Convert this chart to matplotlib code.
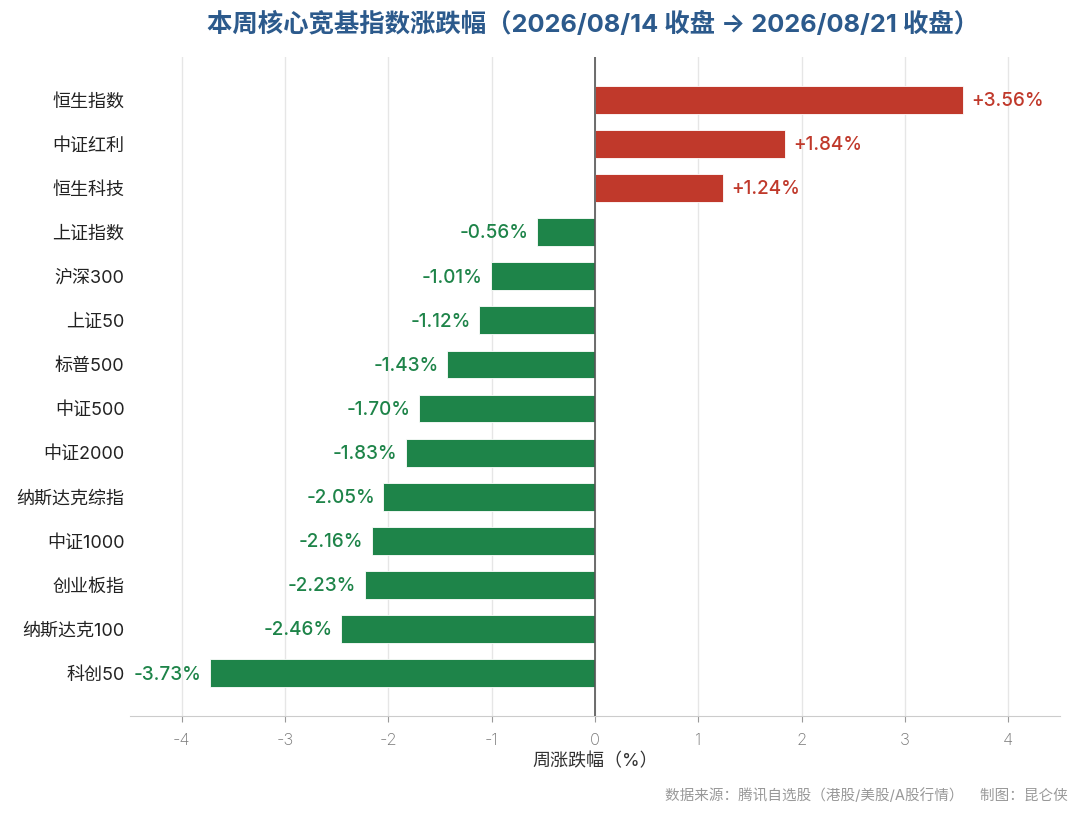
import numpy as np
import matplotlib
matplotlib.use('Agg')
import matplotlib.pyplot as plt

plt.rcParams['font.family'] = ['Inter', 'Noto Sans CJK SC', 'DejaVu Sans']
plt.rcParams['axes.unicode_minus'] = False

names = ['恒生指数', '中证红利', '恒生科技', '上证指数', '沪深300', '上证50',
         '标普500', '中证500', '中证2000', '纳斯达克综指', '中证1000',
         '创业板指', '纳斯达克100', '科创50']
changes = [3.56, 1.84, 1.24, -0.56, -1.01, -1.12, -1.43, -1.70, -1.83,
           -2.05, -2.16, -2.23, -2.46, -3.73]
xticks = [-4, -3, -2, -1, 0, 1, 2, 3, 4]

RED = '#c0392b'
GREEN = '#1e8449'

fig = plt.figure(figsize=(10.8, 8.15), dpi=100)
ax = fig.add_axes([130 / 1080, 1 - 716 / 815, 930 / 1080, 659 / 815])

y = np.arange(len(names))
colors = [RED if v >= 0 else GREEN for v in changes]
ax.barh(y, changes, height=0.63, color=colors, edgecolor='white',
        linewidth=0.6, zorder=3)

for yi, v, c in zip(y, changes, colors):
    off = 0.08 if v >= 0 else -0.08
    ax.text(v + off, yi + 0.03, f'{v:+.2f}%', color=c, fontsize=13.6,
            fontweight='medium',
            ha='left' if v >= 0 else 'right', va='center', zorder=4)

ax.axvline(0, color='#555555', linewidth=1.2, zorder=4)
ax.set_xlim(-4.5, 4.5)
ax.set_ylim(len(names) - 1 + 0.97, -0.97)
ax.set_yticks(y)
ax.set_yticklabels(names, fontsize=13, color='#222222')
ax.tick_params(axis='y', length=0, pad=4)
ax.set_xticks(xticks)
ax.set_xticklabels([str(t) for t in xticks], fontsize=12, color='#777777',
                   fontweight='light')
ax.tick_params(axis='x', length=4, color='#999999', pad=8)
ax.grid(axis='x', color='#e6e6e6', linewidth=1, zorder=0)
for s in ['top', 'right', 'left']:
    ax.spines[s].set_visible(False)
ax.spines['bottom'].set_color('#cccccc')
ax.set_xlabel('周涨跌幅（%）', fontsize=13, color='#333333', labelpad=4)

fig.text(593 / 1080, 1 - 24 / 815,
         '本周核心宽基指数涨跌幅（2026/08/14 收盘 → 2026/08/21 收盘）',
         ha='center', va='center', fontsize=18.3, fontweight='bold',
         color='#2c5a8c')
fig.text(1068 / 1080, 1 - 796 / 815,
         '数据来源：腾讯自选股（港股/美股/A股行情）    制图：昆仑侠',
         ha='right', va='center', fontsize=10.5, color='#999999')

fig.savefig('out.png', dpi=100)
